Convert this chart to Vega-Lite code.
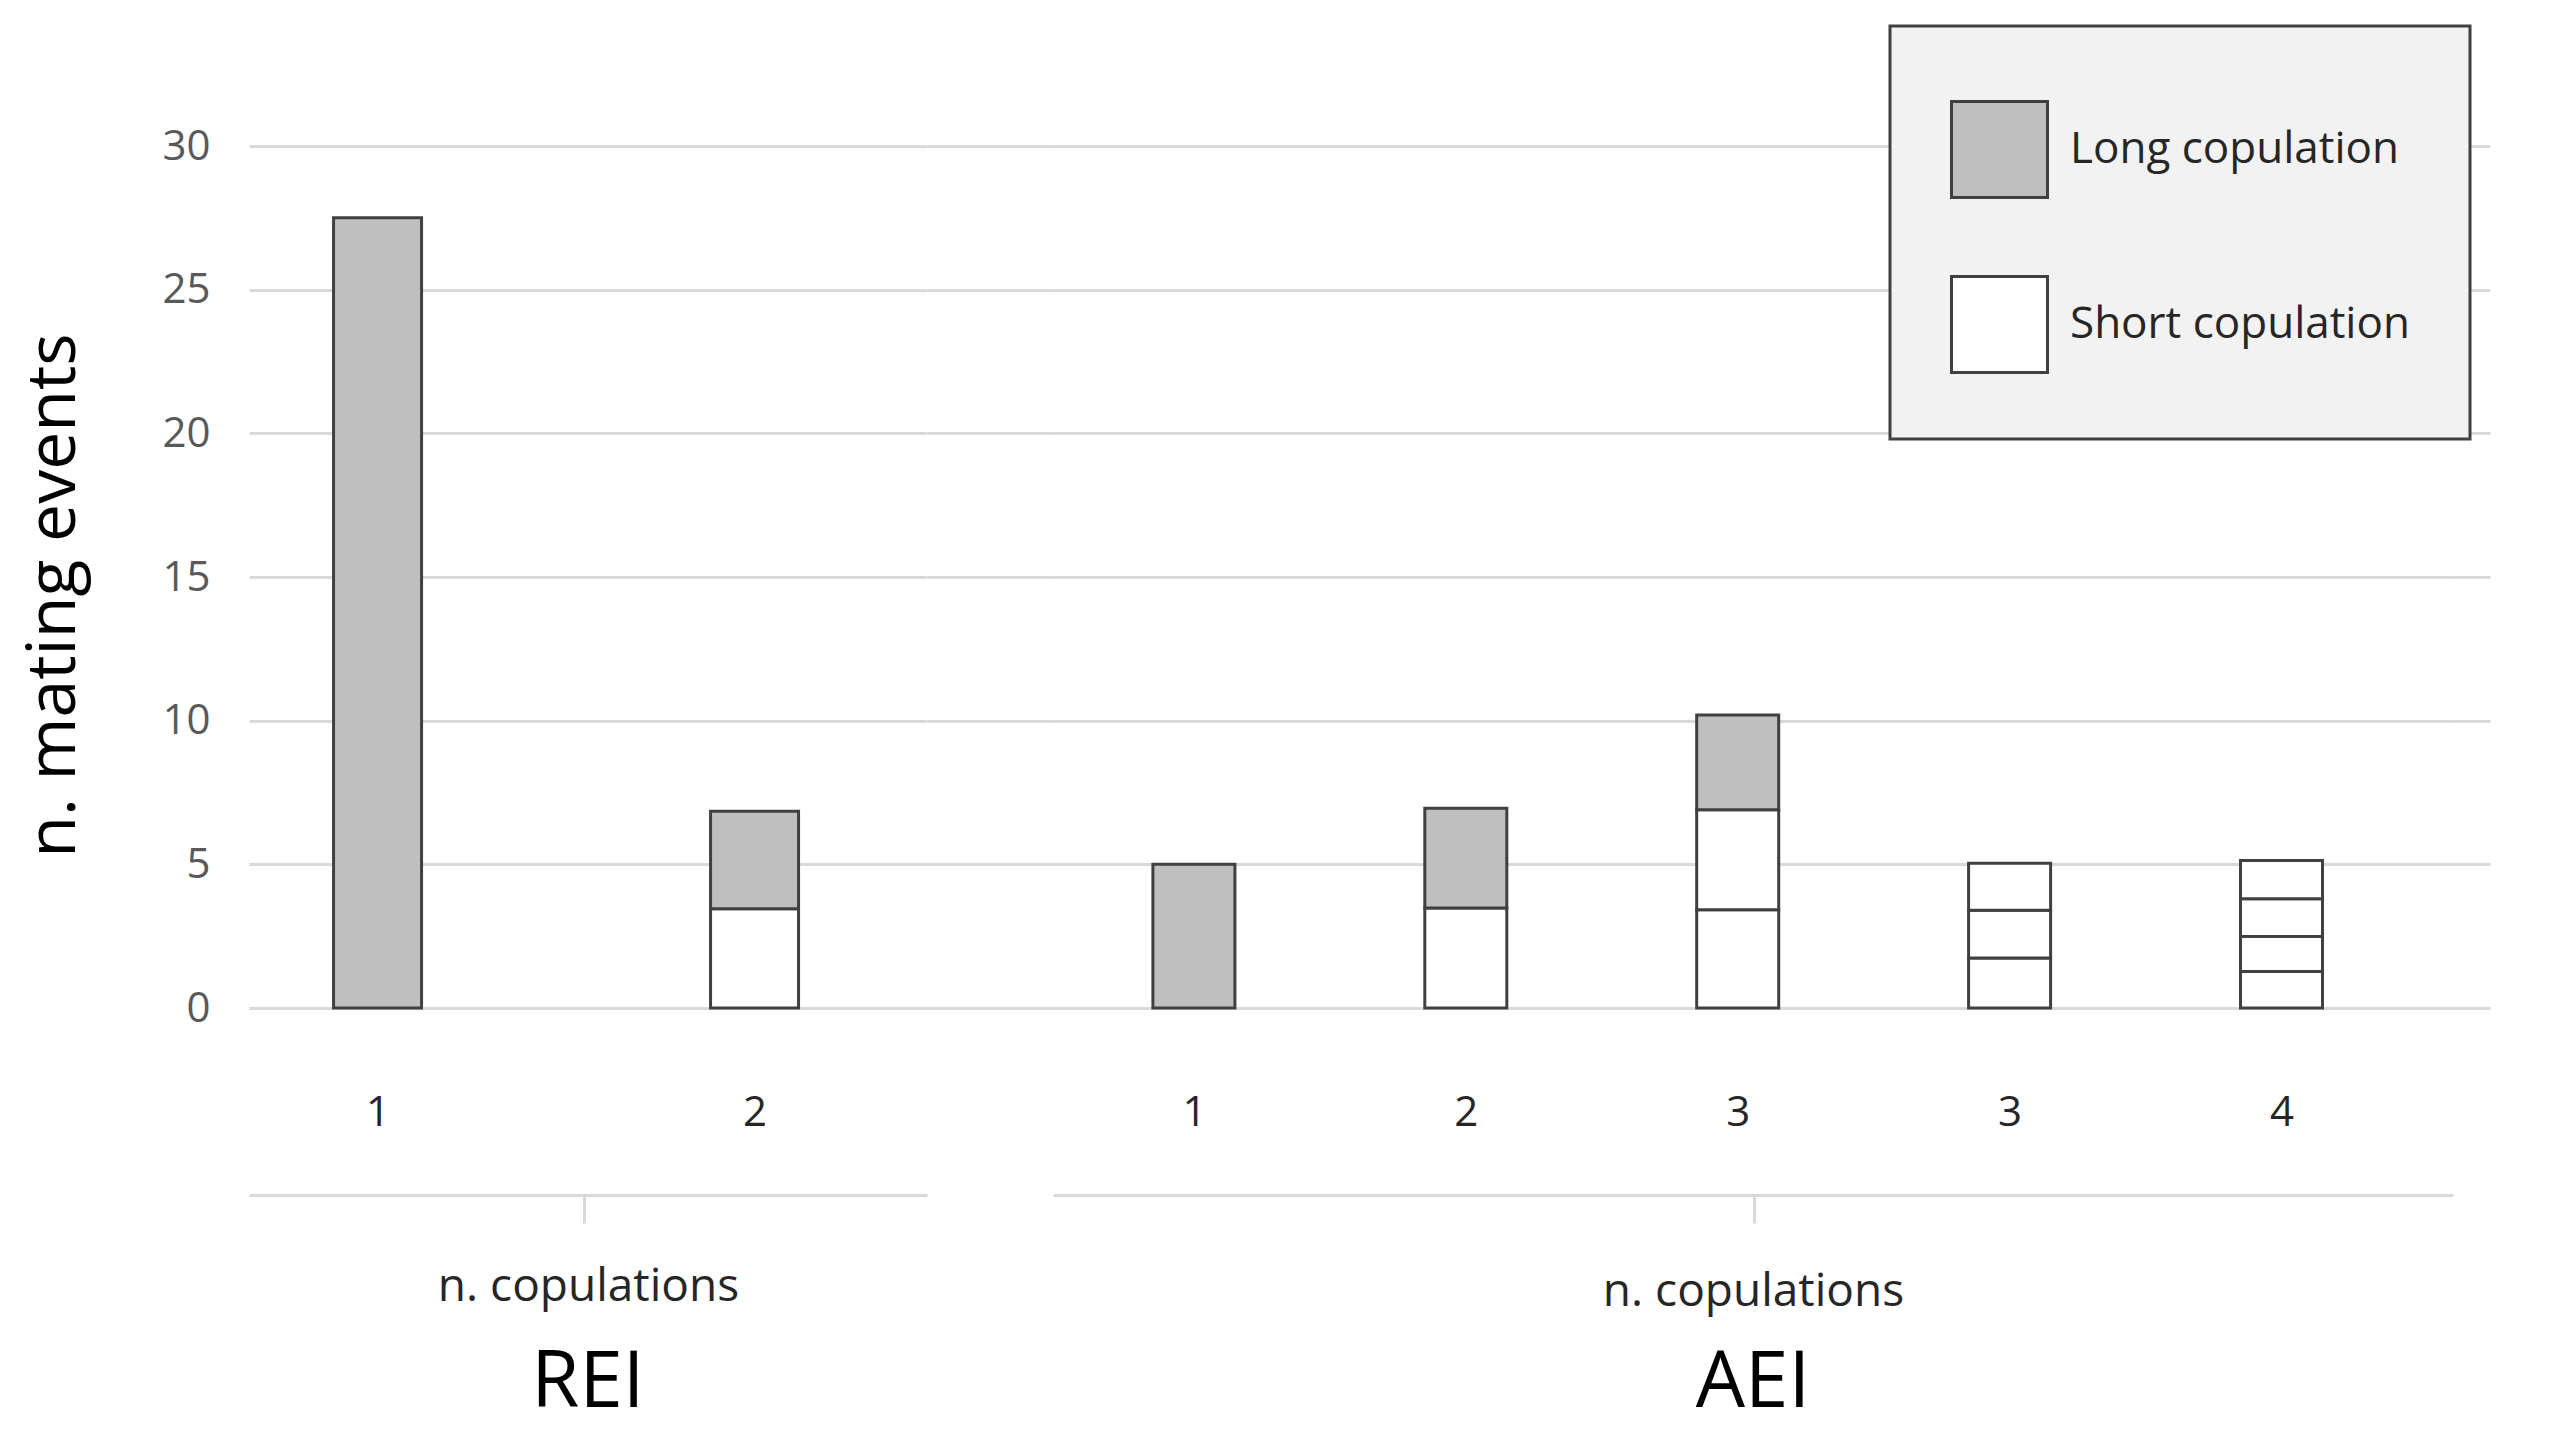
{
  "$schema": "https://vega.github.io/schema/vega-lite/v6.json",
  "autosize": {"type": "pad"},
  "padding": {"left": 20, "top": 24, "right": 60, "bottom": 20},
  "background": "white",
  "config": {
    "view": {"stroke": null},
    "font": "Open Sans",
    "legend": {"strokeWidth": 3}
  },
  "data": {
    "values": [
      {"grp": "REI", "bar": "1", "type": "Long copulation", "n": 27.5, "seg": 1},
      {"grp": "REI", "bar": "2", "type": "Short copulation", "n": 3.45, "seg": 1},
      {"grp": "REI", "bar": "2", "type": "Long copulation", "n": 3.4, "seg": 2},
      {"grp": "AEI", "bar": "1", "type": "Long copulation", "n": 5.0, "seg": 1},
      {"grp": "AEI", "bar": "2", "type": "Short copulation", "n": 3.48, "seg": 1},
      {"grp": "AEI", "bar": "2", "type": "Long copulation", "n": 3.47, "seg": 2},
      {"grp": "AEI", "bar": "3_a", "type": "Short copulation", "n": 3.42, "seg": 1},
      {"grp": "AEI", "bar": "3_a", "type": "Short copulation", "n": 3.48, "seg": 2},
      {"grp": "AEI", "bar": "3_a", "type": "Long copulation", "n": 3.3, "seg": 3},
      {"grp": "AEI", "bar": "3_b", "type": "Short copulation", "n": 1.74, "seg": 1},
      {"grp": "AEI", "bar": "3_b", "type": "Short copulation", "n": 1.66, "seg": 2},
      {"grp": "AEI", "bar": "3_b", "type": "Short copulation", "n": 1.64, "seg": 3},
      {"grp": "AEI", "bar": "4", "type": "Short copulation", "n": 1.27, "seg": 1},
      {"grp": "AEI", "bar": "4", "type": "Short copulation", "n": 1.22, "seg": 2},
      {"grp": "AEI", "bar": "4", "type": "Short copulation", "n": 1.31, "seg": 3},
      {"grp": "AEI", "bar": "4", "type": "Short copulation", "n": 1.33, "seg": 4}
    ]
  },
  "spacing": 0,
  "bounds": "flush",
  "resolve": {
    "scale": {"x": "independent", "y": "independent", "color": "shared"},
    "axis": {"x": "independent", "y": "independent"},
    "legend": {"color": "shared"}
  },
  "hconcat": [
    {
      "width": 678,
      "height": 862,
      "transform": [{"filter": "datum.grp === 'REI'"}],
      "title": {"text": "REI", "orient": "bottom", "anchor": "middle", "fontSize": 78, "font": "Open Sans", "fontWeight": "normal", "color": "#000000", "offset": 35},
      "mark": {"type": "bar", "stroke": "#404040", "strokeWidth": 3},
      "encoding": {
        "x": {
          "field": "bar", "type": "nominal",
          "scale": {"domain": ["1", "2"], "paddingInner": 0.7666, "paddingOuter": 0.2825, "align": 0.397},
          "axis": {
            "title": "n. copulations", "titleFontSize": 46, "titleFont": "Open Sans", "titleFontWeight": "normal", "titleColor": "#262626", "titlePadding": 40,
            "labelAngle": 0, "labelFontSize": 42, "labelFont": "Open Sans", "labelColor": "#262626", "labelPadding": -111, "labelBaseline": "middle",
            "labelExpr": "split(datum.label, '_')[0]",
            "offset": 187, "domain": true, "domainColor": "#d9d9d9", "domainWidth": 3,
            "ticks": true, "tickSize": 28, "tickWidth": 3, "tickOffset": 206, "labelOffset": -206,
            "tickColor": {"condition": {"test": "datum.value === '1'", "value": "#d9d9d9"}, "value": "rgba(0,0,0,0)"},
            "grid": false
          }
        },
        "y": {
          "field": "n", "type": "quantitative", "stack": "zero",
          "scale": {"domain": [0, 30], "nice": false},
          "axis": {
            "title": "n. mating events", "titleFontSize": 68, "titleFont": "Open Sans", "titleFontWeight": "normal", "titleColor": "#000000", "titlePadding": 73, "titleY": 449,
            "values": [0, 5, 10, 15, 20, 25, 30], "labelFontSize": 42, "labelFont": "Open Sans", "labelColor": "#595959", "labelPadding": 39,
            "ticks": false, "domain": false, "grid": true, "gridColor": "#d9d9d9", "gridWidth": 3
          }
        },
        "color": {
          "field": "type", "type": "nominal",
          "scale": {"domain": ["Long copulation", "Short copulation"], "range": ["#bfbfbf", "#ffffff"]},
          "legend": {
            "title": " ", "titleFontSize": 10, "titlePadding": 4, "orient": "none", "legendX": 1641, "legendY": -120, "direction": "vertical",
            "symbolType": "square", "symbolSize": 9216, "symbolStrokeColor": "#404040", "symbolStrokeWidth": 3,
            "labelFontSize": 44, "labelFont": "Open Sans", "labelColor": "#262626", "labelOffset": 21, "labelLimit": 0,
            "rowPadding": 66, "padding": 60, "fillColor": "#f2f2f2", "strokeColor": "#404040"
          }
        },
        "order": {"field": "seg", "type": "quantitative"}
      }
    },
    {
      "width": 126,
      "height": 862,
      "mark": {"type": "rule", "opacity": 0},
      "encoding": {
        "y": {
          "datum": 0, "type": "quantitative",
          "scale": {"domain": [0, 30], "nice": false},
          "axis": {"title": null, "labels": false, "ticks": false, "domain": false, "grid": true, "gridColor": "#d9d9d9", "gridWidth": 3, "values": [0, 5, 10, 15, 20, 25, 30]}
        }
      }
    },
    {
      "width": 1400,
      "height": 862,
      "transform": [{"filter": "datum.grp === 'AEI'"}],
      "title": {"text": "AEI", "orient": "bottom", "anchor": "middle", "fontSize": 78, "font": "Open Sans", "fontWeight": "normal", "color": "#000000", "offset": 30},
      "mark": {"type": "bar", "stroke": "#404040", "strokeWidth": 3},
      "encoding": {
        "x": {
          "field": "bar", "type": "nominal",
          "scale": {"domain": ["1", "2", "3_a", "3_b", "4"], "paddingInner": 0.6984, "paddingOuter": 0.4237, "align": 0.4336},
          "axis": {
            "title": "n. copulations", "titleFontSize": 46, "titleFont": "Open Sans", "titleFontWeight": "normal", "titleColor": "#262626", "titlePadding": 45,
            "labelAngle": 0, "labelFontSize": 42, "labelFont": "Open Sans", "labelColor": "#262626", "labelPadding": -111, "labelBaseline": "middle",
            "labelExpr": "split(datum.label, '_')[0]",
            "offset": 187, "domain": true, "domainColor": "#d9d9d9", "domainWidth": 3,
            "ticks": true, "tickSize": 28, "tickWidth": 3, "tickOffset": 16, "labelOffset": -16,
            "tickColor": {"condition": {"test": "datum.value === '3_a'", "value": "#d9d9d9"}, "value": "rgba(0,0,0,0)"},
            "grid": false
          }
        },
        "y": {
          "field": "n", "type": "quantitative", "stack": "zero",
          "scale": {"domain": [0, 30], "nice": false},
          "axis": {"title": null, "labels": false, "ticks": false, "domain": false, "grid": true, "gridColor": "#d9d9d9", "gridWidth": 3, "values": [0, 5, 10, 15, 20, 25, 30]}
        },
        "color": {
          "field": "type", "type": "nominal",
          "scale": {"domain": ["Long copulation", "Short copulation"], "range": ["#bfbfbf", "#ffffff"]},
          "legend": {
            "title": " ", "titleFontSize": 10, "titlePadding": 4, "orient": "none", "legendX": 1641, "legendY": -120, "direction": "vertical",
            "symbolType": "square", "symbolSize": 9216, "symbolStrokeColor": "#404040", "symbolStrokeWidth": 3,
            "labelFontSize": 44, "labelFont": "Open Sans", "labelColor": "#262626", "labelOffset": 21, "labelLimit": 0,
            "rowPadding": 66, "padding": 60, "fillColor": "#f2f2f2", "strokeColor": "#404040"
          }
        },
        "order": {"field": "seg", "type": "quantitative"}
      }
    },
    {
      "width": 37,
      "height": 862,
      "mark": {"type": "rule", "opacity": 0},
      "encoding": {
        "y": {
          "datum": 0, "type": "quantitative",
          "scale": {"domain": [0, 30], "nice": false},
          "axis": {"title": null, "labels": false, "ticks": false, "domain": false, "grid": true, "gridColor": "#d9d9d9", "gridWidth": 3, "values": [0, 5, 10, 15, 20, 25, 30]}
        }
      }
    }
  ]
}
